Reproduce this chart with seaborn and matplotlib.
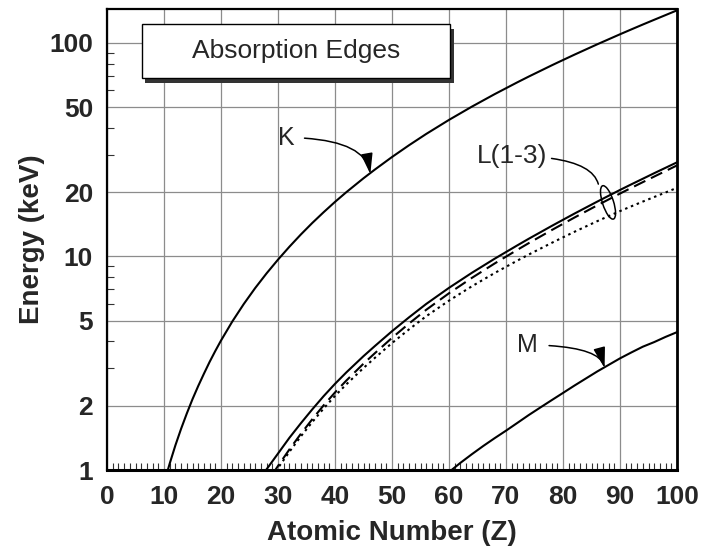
import numpy as np
import pandas as pd
import matplotlib
matplotlib.use("Agg")
import matplotlib.pyplot as plt
import seaborn as sns
from matplotlib.patches import Rectangle, Ellipse
from matplotlib.transforms import ScaledTranslation
from matplotlib.ticker import FixedLocator, NullFormatter

# K edge (keV)
k_z = [10, 11, 12, 13, 14, 15, 16, 17, 18, 19, 20, 22, 24, 26, 28, 30, 32, 34, 36, 38, 40,
       42, 45, 47, 50, 53, 56, 60, 64, 68, 72, 74, 78, 79, 82, 86, 90, 92, 94, 96, 100]
k_e = [0.867, 1.072, 1.305, 1.560, 1.839, 2.146, 2.472, 2.822, 3.206, 3.608, 4.038, 4.966,
       5.989, 7.112, 8.333, 9.659, 11.10, 12.66, 14.33, 16.10, 18.00, 20.00, 23.22, 25.51,
       29.20, 33.17, 37.44, 43.57, 50.24, 57.49, 65.35, 69.53, 78.39, 80.72, 88.00, 98.40,
       109.65, 115.6, 121.8, 128.2, 141.9]

# L1 edge
l1_z = [27, 28, 30, 32, 34, 36, 38, 40, 42, 45, 47, 50, 53, 56, 60, 64, 68, 72, 74, 78, 79,
        82, 86, 90, 92, 94, 96, 100]
l1_e = [0.926, 1.008, 1.194, 1.415, 1.654, 1.921, 2.216, 2.532, 2.866, 3.412, 3.806, 4.465,
        5.188, 5.989, 7.126, 8.376, 9.751, 11.271, 12.100, 13.880, 14.353, 15.861, 18.049,
        20.472, 21.757, 23.097, 24.526, 27.57]

# L2 edge
l2_z = [29, 30, 32, 34, 36, 38, 40, 42, 45, 47, 50, 53, 56, 60, 64, 68, 72, 74, 78, 79,
        82, 86, 90, 92, 94, 96, 100]
l2_e = [0.951, 1.045, 1.248, 1.476, 1.727, 2.007, 2.307, 2.625, 3.146, 3.524, 4.156, 4.852,
        5.624, 6.722, 7.930, 9.264, 10.739, 11.544, 13.273, 13.734, 15.200, 17.337, 19.693,
        20.948, 22.266, 23.65, 26.67]

# L3 edge
l3_z = [29, 30, 32, 34, 36, 38, 40, 42, 45, 47, 50, 53, 56, 60, 64, 68, 72, 74, 78, 79,
        82, 86, 90, 92, 94, 96, 100]
l3_e = [0.931, 1.022, 1.217, 1.436, 1.675, 1.940, 2.223, 2.520, 3.004, 3.351, 3.929, 4.557,
        5.247, 6.208, 7.243, 8.358, 9.561, 10.207, 11.564, 11.919, 13.035, 14.619, 16.300,
        17.166, 18.057, 18.97, 20.94]

# M edge
m_z = [59, 60, 62, 64, 66, 68, 70, 72, 74, 76, 78, 80, 82, 86, 90, 92, 94, 96, 98, 100]
m_e = [0.931, 0.978, 1.080, 1.185, 1.295, 1.409, 1.528, 1.662, 1.809, 1.960, 2.122, 2.295,
       2.484, 2.892, 3.332, 3.552, 3.778, 3.971, 4.20, 4.42]

x_ticks = [0, 10, 20, 30, 40, 50, 60, 70, 80, 90, 100]
y_ticks = [1, 2, 5, 10, 20, 50, 100]
y_tick_labels = ["1", "2", "5", "10", "20", "50", "100"]

sns.set_theme(style="white")
plt.rcParams["font.family"] = ["Liberation Sans", "DejaVu Sans"]

fig = plt.figure(figsize=(7.01, 5.51), dpi=100)
ax = fig.add_axes([107 / 701, 1 - 470 / 551, 570 / 701, 461 / 551])

series = [
    (k_z, k_e, "-"),
    (l1_z, l1_e, "-"),
    (l2_z, l2_e, (0, (6, 3))),
    (l3_z, l3_e, (0, (1.2, 1.8))),
    (m_z, m_e, "-"),
]
for zs, es, ls in series:
    df = pd.DataFrame({"Z": zs, "E": es})
    sns.lineplot(data=df, x="Z", y="E", ax=ax, color="black", lw=1.5,
                 linestyle=ls, estimator=None, sort=False)

ax.set_yscale("log")
ax.set_xlim(0, 100)
ax.set_ylim(1, 144)
ax.set_xticks(x_ticks)
ax.set_xticklabels([str(t) for t in x_ticks])
ax.set_yticks(y_ticks)
ax.set_yticklabels(y_tick_labels)
ax.yaxis.set_minor_locator(FixedLocator([3, 4, 6, 7, 8, 9, 30, 40, 60, 70, 80, 90]))
ax.yaxis.set_minor_formatter(NullFormatter())
ax.xaxis.set_minor_locator(FixedLocator(np.arange(1, 100, 1)))

ax.grid(True, which="major", color="#8c8c8c", lw=0.9)
ax.tick_params(axis="both", which="major", length=0, labelsize=19, bottom=True, left=True)
ax.tick_params(axis="x", which="major", pad=11)
ax.tick_params(axis="y", which="major", pad=10)
ax.tick_params(axis="both", which="minor", direction="in", length=5, width=0.8,
               color="#333333", bottom=True, left=True)
for lab in ax.get_xticklabels() + ax.get_yticklabels():
    lab.set_fontweight("bold")
for sp in ax.spines.values():
    sp.set_color("black")
    sp.set_linewidth(1.6)
ax.spines["bottom"].set_linewidth(2.2)
ax.spines["right"].set_linewidth(2.0)

ax.set_xlabel("Atomic Number (Z)", fontsize=20, fontweight="bold", labelpad=8)
ax.set_ylabel("Energy (keV)", fontsize=20, fontweight="bold", labelpad=3)

# Title box with shadow
ax.add_patch(Rectangle((0.067, 0.840), 0.541, 0.117, transform=ax.transAxes,
                       facecolor="#333333", edgecolor="none", zorder=5, clip_on=False))
ax.add_patch(Rectangle((0.061, 0.850), 0.541, 0.117, transform=ax.transAxes,
                       facecolor="white", edgecolor="black", lw=1.0, zorder=6, clip_on=False))
ax.text(0.3315, 0.9085, "Absorption Edges", transform=ax.transAxes, ha="center",
        va="center", fontsize=19, zorder=7)

# Annotations
ax.annotate("K", xy=(46.2, 24.3), xytext=(31.4, 36), fontsize=18, ha="center", va="center",
            arrowprops=dict(arrowstyle="-|>,head_length=0.7,head_width=0.2", color="black", lw=1.1,
                            shrinkA=5, shrinkB=0,
                            connectionstyle="angle3,angleA=0,angleB=-80"))
ax.annotate("L(1-3)", xy=(86.2, 21.8), xytext=(71.0, 29.5), fontsize=19, ha="center", va="center",
            arrowprops=dict(arrowstyle="-", color="black", lw=1.1, shrinkA=1, shrinkB=0,
                            connectionstyle="angle3,angleA=0,angleB=-75"))
ax.annotate("M", xy=(87.3, 3.0), xytext=(73.7, 3.85), fontsize=18, ha="center", va="center",
            arrowprops=dict(arrowstyle="-|>,head_length=0.7,head_width=0.2", color="black", lw=1.1,
                            shrinkA=6, shrinkB=0,
                            connectionstyle="angle3,angleA=0,angleB=-75"))

ell_tr = fig.dpi_scale_trans + ScaledTranslation(87.9, 17.9, ax.transData)
ax.add_patch(Ellipse((0, 0), 0.11, 0.35, angle=18, transform=ell_tr,
                     facecolor="none", edgecolor="black", lw=1.1, zorder=5))

fig.savefig("out.png", dpi=100)
